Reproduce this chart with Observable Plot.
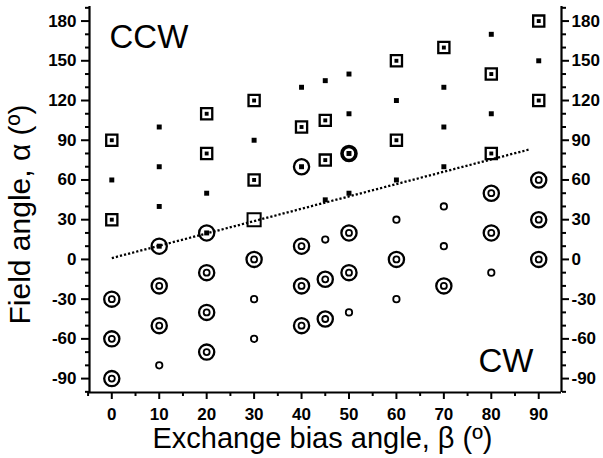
<!DOCTYPE html>
<html>
<head>
<meta charset="utf-8">
<script src="https://cdn.jsdelivr.net/npm/d3@7"></script>
<script src="https://cdn.jsdelivr.net/npm/@observablehq/plot@0.6"></script>
<style>
  html, body { margin: 0; padding: 0; background: white; }
  #chart svg { display: block; }
</style>
</head>
<body>
<div id="chart"></div>
<script>
// Axis ticks
const yTicks = [-90, -60, -30, 0, 30, 60, 90, 120, 150, 180];
const yMinor = [-100, -80, -70, -50, -40, -20, -10, 10, 20, 40, 50, 70, 80, 100, 110, 130, 140, 160, 170, 190];
const xTicks = [0, 10, 20, 30, 40, 50, 60, 70, 80, 90];
const xMinor = [-5, 5, 15, 25, 35, 45, 55, 65, 75, 85];
const xDomain = [-4.7, 94.8];
const yDomain = [-100.5, 191];

// Open squares with a dot inside (beta, alpha)
const sqDotB = [0, 0, 20, 20, 30, 30, 40, 45, 45, 60, 60, 70, 80, 80, 90, 90];
const sqDotA = [90, 30, 110, 80, 120, 60, 100, 105, 75, 150, 90, 160, 140, 80, 180, 120];

// Small filled squares
const fillB = [0, 10, 10, 10, 20, 30, 40, 45, 45, 50, 50, 50, 60, 60, 70, 70, 70, 80, 80, 90, 10, 20, 40, 50];
const fillA = [60, 100, 70, 40, 50, 90, 130, 135, 45, 140, 110, 50, 120, 60, 130, 100, 70, 170, 110, 150, 10, 20, 70, 80];

// Double circles (big ring + small ring)
const ringB = [0, 0, 0, 10, 10, 20, 20, 20, 30, 40, 40, 40, 45, 45, 50, 50, 60, 70, 80, 80, 90, 90, 90];
const ringA = [-30, -60, -90, -20, -50, -10, -40, -70, 0, 10, -20, -50, -15, -45, 20, -10, 0, -20, 50, 20, 60, 30, 0];

// Small rings only
const smallB = [10, 30, 30, 45, 50, 60, 60, 70, 70, 80];
const smallA = [-80, -30, -60, 15, -40, 30, -30, 40, 10, -10];

// Big rings around a filled square
const ringFillB = [10, 20, 40];
const ringFillA = [10, 20, 70];

// Bold ring
const boldB = [50];
const boldA = [80];

// Open square without dot
const openB = [30];
const openA = [30];

// Dotted guide line
const lineB = [0, 88];
const lineA = [1, 83];

const pts = (bs, as) => bs.map((b, i) => ({b, a: as[i]}));

const font = "'Liberation Sans', Arial, Helvetica, sans-serif";
const noText = () => "";

const chart = Plot.plot({
  width: 603,
  height: 458,
  marginLeft: 89,
  marginRight: 42,
  marginTop: 6,
  marginBottom: 66,
  x: {domain: xDomain},
  y: {domain: yDomain},
  style: {fontFamily: font, background: "white", color: "black"},
  marks: [
    Plot.axisY(yTicks, {anchor: "left", tickSize: 8, tickPadding: 5, fontSize: 17, fontWeight: "bold", strokeWidth: 2, label: null, tickFormat: d => String(d)}),
    Plot.axisY(yMinor, {anchor: "left", tickSize: 4, strokeWidth: 2, label: null, tickFormat: noText}),
    Plot.axisY(yTicks, {anchor: "right", tickSize: 7, tickPadding: 3, fontSize: 17, fontWeight: "bold", strokeWidth: 2, label: null, tickFormat: d => String(d)}),
    Plot.axisY(yMinor, {anchor: "right", tickSize: 4, strokeWidth: 2, label: null, tickFormat: noText}),
    Plot.axisX(xTicks, {anchor: "bottom", tickSize: 7, tickPadding: 8, fontSize: 17, fontWeight: "bold", strokeWidth: 2, label: null, tickFormat: d => String(d)}),
    Plot.axisX(xMinor, {anchor: "bottom", tickSize: 4, strokeWidth: 2, label: null, tickFormat: noText}),
    Plot.ruleX([xDomain[0], xDomain[1]], {strokeWidth: 2.2}),
    Plot.ruleY([yDomain[0]], {strokeWidth: 2.2}),

    Plot.line(pts(lineB, lineA), {x: "b", y: "a", stroke: "black", strokeWidth: 2.3, strokeDasharray: "2.2 2", strokeLinecap: "butt"}),

    Plot.dot(pts(sqDotB, sqDotA), {x: "b", y: "a", symbol: "square", r: 6.3, stroke: "black", strokeWidth: 2.3, fill: "none"}),
    Plot.dot(pts(sqDotB, sqDotA), {x: "b", y: "a", symbol: "square", r: 2.2, fill: "black", stroke: "none"}),
    Plot.dot(pts(fillB, fillA), {x: "b", y: "a", symbol: "square", r: 2.8, fill: "black", stroke: "none"}),
    Plot.dot(pts(ringB, ringA), {x: "b", y: "a", r: 7.6, stroke: "black", strokeWidth: 2.3, fill: "none"}),
    Plot.dot(pts(ringB, ringA), {x: "b", y: "a", r: 3, stroke: "black", strokeWidth: 1.8, fill: "none"}),
    Plot.dot(pts(smallB, smallA), {x: "b", y: "a", r: 3.2, stroke: "black", strokeWidth: 1.8, fill: "none"}),
    Plot.dot(pts(ringFillB, ringFillA), {x: "b", y: "a", r: 7.6, stroke: "black", strokeWidth: 2.3, fill: "none"}),
    Plot.dot(pts(boldB, boldA), {x: "b", y: "a", r: 7, stroke: "black", strokeWidth: 3.6, fill: "none"}),
    Plot.dot(pts(openB, openA), {x: "b", y: "a", symbol: "square", r: 7.4, stroke: "black", strokeWidth: 2, fill: "none"}),

    Plot.text(["CCW"], {frameAnchor: "top-left", text: d => d, textAnchor: "start", lineAnchor: "bottom", dx: 20, dy: 41, fontSize: 33}),
    Plot.text(["CW"], {frameAnchor: "bottom-right", text: d => d, textAnchor: "end", lineAnchor: "bottom", dx: -28, dy: -21, fontSize: 33}),
    Plot.text(["Exchange bias angle, β (º)"], {frameAnchor: "bottom", text: d => d, textAnchor: "middle", lineAnchor: "middle", dx: -3, dy: 46, fontSize: 29}),
    Plot.text(["Field angle, α (º)"], {frameAnchor: "left", text: d => d, textAnchor: "middle", lineAnchor: "middle", rotate: -90, dx: -69, dy: 15, fontSize: 30})
  ]
});

document.getElementById("chart").appendChild(chart);
</script>
</body>
</html>
